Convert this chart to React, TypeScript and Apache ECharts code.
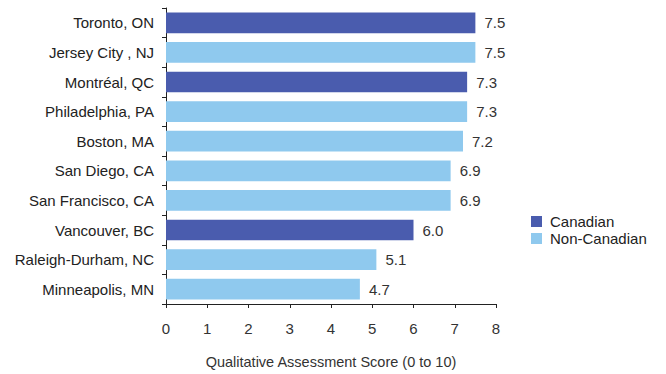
import React, { useEffect, useRef } from "react";
import * as echarts from "echarts";

// City rankings, top to bottom
const cities = [
  "Toronto, ON",
  "Jersey City , NJ",
  "Montréal, QC",
  "Philadelphia, PA",
  "Boston, MA",
  "San Diego, CA",
  "San Francisco, CA",
  "Vancouver, BC",
  "Raleigh-Durham, NC",
  "Minneapolis, MN",
];
const scores = [7.5, 7.5, 7.3, 7.3, 7.2, 6.9, 6.9, 6.0, 5.1, 4.7];
const isCanadian = [true, false, true, false, false, false, false, true, false, false];
const seriesNames = ["Canadian", "Non-Canadian"];
const xTicks = { min: 0, max: 8, interval: 1 };
const axisTitle = "Qualitative Assessment Score (0 to 10)";

const DARK = "#4a5cae";
const LIGHT = "#8fc9ee";
const FONT = "'Liberation Sans', Arial, Helvetica, sans-serif";

export default function App() {
  const ref = useRef<HTMLDivElement>(null);

  useEffect(() => {
    if (!ref.current) return;
    const chart = echarts.init(ref.current, undefined, { renderer: "svg" });

    const canadianData = scores.map((v, i) => (isCanadian[i] ? v : "-"));
    const otherData = scores.map((v, i) => (isCanadian[i] ? "-" : v));

    const label = {
      show: true,
      position: "right" as const,
      distance: 9,
      color: "#333",
      fontSize: 15,
      fontFamily: FONT,
      formatter: (p: any) => Number(p.value).toFixed(1),
    };

    chart.setOption({
      animation: false,
      backgroundColor: "#fff",
      textStyle: { fontFamily: FONT },
      grid: { left: 166, right: 170, top: 8, bottom: 65 },
      legend: {
        orient: "vertical",
        left: 526,
        top: 209,
        icon: "rect",
        itemWidth: 11,
        itemHeight: 11,
        itemGap: 2,
        textStyle: { fontSize: 15, color: "#222", fontFamily: FONT, padding: [0, 0, 0, 3] },
        data: seriesNames,
      },
      xAxis: {
        type: "value",
        min: xTicks.min,
        max: xTicks.max,
        interval: xTicks.interval,
        splitLine: { show: false },
        axisLine: { show: true, lineStyle: { color: "#222", width: 1 } },
        axisTick: { show: true, length: 4, lineStyle: { color: "#222" } },
        axisLabel: { fontSize: 15, color: "#333", margin: 17, fontFamily: FONT },
        name: axisTitle,
        nameLocation: "middle",
        nameGap: 50,
        nameTextStyle: { fontSize: 14.5, color: "#333", fontFamily: FONT },
      },
      yAxis: {
        type: "category",
        inverse: true,
        data: cities,
        axisLine: { show: true, lineStyle: { color: "#222", width: 1 } },
        axisTick: { show: true, length: 4, lineStyle: { color: "#222" } },
        axisLabel: { fontSize: 15, color: "#222", margin: 12, fontFamily: FONT },
      },
      series: [
        {
          name: seriesNames[0],
          type: "bar",
          stack: "city",
          barCategoryGap: "30%",
          itemStyle: { color: DARK },
          label,
          data: canadianData,
        },
        {
          name: seriesNames[1],
          type: "bar",
          stack: "city",
          barCategoryGap: "30%",
          itemStyle: { color: LIGHT },
          label,
          data: otherData,
        },
      ],
    });

    return () => chart.dispose();
  }, []);

  return (
    <div
      ref={ref}
      style={{ position: "fixed", left: 0, top: 0, width: 666, height: 374 }}
    />
  );
}
